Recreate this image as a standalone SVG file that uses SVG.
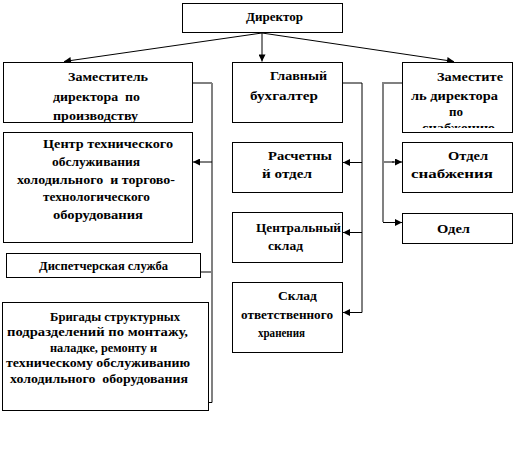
<svg xmlns="http://www.w3.org/2000/svg" width="516" height="453" viewBox="0 0 516 453">
<style>
.box{fill:#fff;stroke:#000;stroke-width:1}
.t{font-family:"Times New Roman","Liberation Serif","DejaVu Serif",serif;font-weight:bold;font-size:13px;fill:#000;white-space:pre}
.ln{fill:none;stroke:#000;stroke-width:1}
.gr{fill:none;stroke:#808080;stroke-width:2}
</style>
<defs>
<marker id="ah" viewBox="0 0 10 10" refX="10" refY="5" markerWidth="9" markerHeight="7" markerUnits="userSpaceOnUse" orient="auto">
<path d="M0,0 L10,5 L0,10 z" fill="#000"/>
</marker>
<clipPath id="clipR"><rect x="402" y="62" width="111" height="66"/></clipPath>
</defs>
<rect width="516" height="453" fill="#fff"/>
<g id="connectors">
<line class="ln" x1="262" y1="33" x2="64" y2="61.5" marker-end="url(#ah)"/>
<line class="ln" x1="262" y1="33" x2="262" y2="61.5" marker-end="url(#ah)"/>
<line class="ln" x1="262" y1="33" x2="454" y2="61.5" marker-end="url(#ah)"/>
<polyline class="ln" points="192,83 212,83"/>
<line class="gr" x1="212" y1="83" x2="212" y2="402.5"/>
<line class="ln" x1="212" y1="162" x2="193" y2="162" marker-end="url(#ah)"/>
<line class="gr" x1="201" y1="272" x2="212" y2="272"/>
<line class="ln" x1="208" y1="402.5" x2="212" y2="402.5"/>
<polyline class="ln" points="343,83 362,83 362,312.5"/>
<line class="ln" x1="362" y1="162.5" x2="343" y2="162.5" marker-end="url(#ah)"/>
<line class="ln" x1="362" y1="232.5" x2="343" y2="232.5" marker-end="url(#ah)"/>
<line class="ln" x1="362" y1="312.5" x2="343" y2="312.5" marker-end="url(#ah)"/>
<polyline class="gr" points="402,83 383,83 383,222"/>
<line class="gr" x1="383" y1="162" x2="394" y2="162"/>
<line class="ln" x1="392" y1="162" x2="402" y2="162" marker-end="url(#ah)"/>
<line class="ln" x1="383" y1="222.5" x2="402" y2="222.5" marker-end="url(#ah)"/>
</g>
<g id="director">
<rect class="box" x="182.5" y="3.5" width="160" height="29"/>
<text class="t" x="246" y="21" textLength="57" lengthAdjust="spacingAndGlyphs">Директор</text>
</g>
<g id="deputy-production">
<rect class="box" x="3.5" y="62.5" width="189" height="60"/>
<text class="t" x="68" y="81" textLength="80" lengthAdjust="spacingAndGlyphs">Заместитель</text>
<text class="t" x="53" y="101" textLength="87" lengthAdjust="spacingAndGlyphs">директора  по</text>
<text class="t" x="53" y="120" textLength="85" lengthAdjust="spacingAndGlyphs">производству</text>
</g>
<g id="chief-accountant">
<rect class="box" x="232.5" y="62.5" width="110" height="60"/>
<text class="t" x="270" y="80" textLength="57" lengthAdjust="spacingAndGlyphs">Главный</text>
<text class="t" x="250" y="100" textLength="68" lengthAdjust="spacingAndGlyphs">бухгалтер</text>
</g>
<g id="deputy-supply">
<rect class="box" x="402.5" y="62.5" width="110" height="70"/>
<text class="t" x="437" y="81" textLength="66" lengthAdjust="spacingAndGlyphs">Заместите</text>
<text class="t" x="411" y="100" textLength="87" lengthAdjust="spacingAndGlyphs">ль директора</text>
<text class="t" x="449" y="116" textLength="14" lengthAdjust="spacingAndGlyphs">по</text>
<text class="t" x="422" y="132" textLength="73" lengthAdjust="spacingAndGlyphs" clip-path="url(#clipR)">снабжению</text>
</g>
<g id="service-center">
<rect class="box" x="3.5" y="132.5" width="189" height="110"/>
<text class="t" x="43" y="148" textLength="130" lengthAdjust="spacingAndGlyphs">Центр технического</text>
<text class="t" x="52" y="166" textLength="88" lengthAdjust="spacingAndGlyphs">обслуживания</text>
<text class="t" x="17" y="184" textLength="158" lengthAdjust="spacingAndGlyphs">холодильного  и торгово-</text>
<text class="t" x="43" y="201" textLength="107" lengthAdjust="spacingAndGlyphs">технологического</text>
<text class="t" x="53" y="219" textLength="90" lengthAdjust="spacingAndGlyphs">оборудования</text>
</g>
<g id="accounting">
<rect class="box" x="232.5" y="142.5" width="110" height="50"/>
<text class="t" x="268" y="160" textLength="64" lengthAdjust="spacingAndGlyphs">Расчетны</text>
<text class="t" x="262" y="178" textLength="50" lengthAdjust="spacingAndGlyphs">й отдел</text>
</g>
<g id="supply-dept">
<rect class="box" x="402.5" y="142.5" width="110" height="50"/>
<text class="t" x="448" y="160" textLength="40" lengthAdjust="spacingAndGlyphs">Отдел</text>
<text class="t" x="411" y="178" textLength="82" lengthAdjust="spacingAndGlyphs">снабжения</text>
</g>
<g id="central-warehouse">
<rect class="box" x="232.5" y="212.5" width="110" height="50"/>
<text class="t" x="256" y="232" textLength="85" lengthAdjust="spacingAndGlyphs">Центральный</text>
<text class="t" x="268" y="250" textLength="35" lengthAdjust="spacingAndGlyphs">склад</text>
</g>
<g id="odel">
<rect class="box" x="402.5" y="213.5" width="110" height="30"/>
<text class="t" x="437" y="233" textLength="33" lengthAdjust="spacingAndGlyphs">Одел</text>
</g>
<g id="dispatch">
<rect class="box" x="6.5" y="253.5" width="194" height="24"/>
<text class="t" x="39" y="270" font-size="12" textLength="129" lengthAdjust="spacingAndGlyphs">Диспетчерская служба</text>
</g>
<g id="storage">
<rect class="box" x="232.5" y="282.5" width="110" height="70"/>
<text class="t" x="278" y="300" textLength="39" lengthAdjust="spacingAndGlyphs">Склад</text>
<text class="t" x="241" y="319" textLength="92" lengthAdjust="spacingAndGlyphs">ответственного</text>
<text class="t" x="258" y="337" textLength="47" lengthAdjust="spacingAndGlyphs">хранения</text>
</g>
<g id="brigades">
<rect class="box" x="2.5" y="302.5" width="206" height="108"/>
<text class="t" x="50" y="321" textLength="130" lengthAdjust="spacingAndGlyphs">Бригады структурных</text>
<text class="t" x="7" y="336" textLength="181" lengthAdjust="spacingAndGlyphs">подразделений по монтажу,</text>
<text class="t" x="50" y="352" textLength="107" lengthAdjust="spacingAndGlyphs">наладке, ремонту и</text>
<text class="t" x="6" y="367" textLength="184" lengthAdjust="spacingAndGlyphs">техническому обслуживанию</text>
<text class="t" x="10" y="383" textLength="178" lengthAdjust="spacingAndGlyphs">холодильного  оборудования</text>
</g>
</svg>
